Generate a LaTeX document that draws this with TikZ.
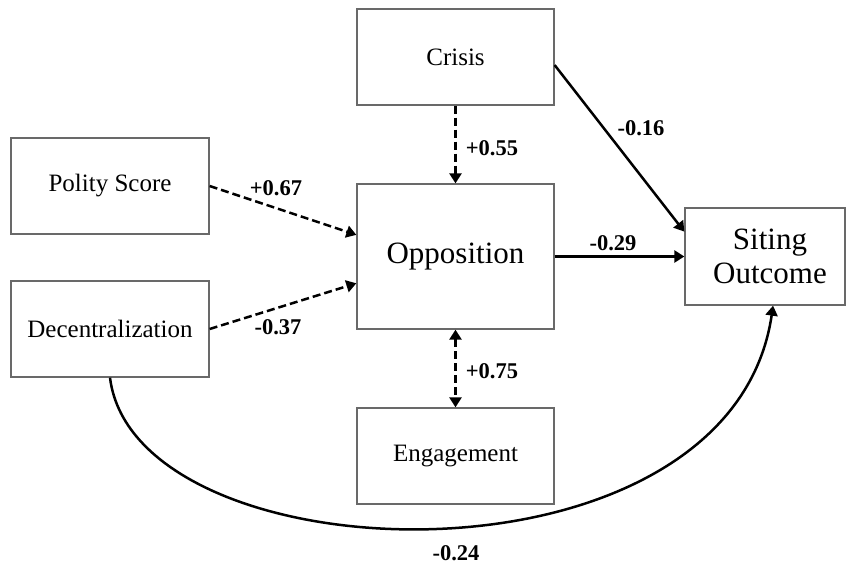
\documentclass[tikz,border=0pt]{standalone}
\usepackage{fontspec}
\setmainfont{Liberation Serif}
\usetikzlibrary{arrows.meta,calc}
\definecolor{boxgray}{RGB}{105,105,105}
\begin{document}
\begin{tikzpicture}[x=1pt,y=-1pt,
  >={Triangle[length=10pt,width=12pt]},
  box/.style={draw=boxgray, line width=1.3pt, fill=white, inner sep=0pt,
    font=\fontsize{25}{28}\selectfont},
  bigbox/.style={box, font=\fontsize{31}{34}\selectfont, align=center},
  conn/.style={line width=2.5pt, ->},
  dconn/.style={conn, dash pattern=on 8pt off 4pt},
  coef/.style={font=\bfseries\fontsize{22.5}{25}\selectfont, inner sep=0pt}]
\useasboundingbox (0,0) rectangle (847,565);

\node[box, minimum width=197pt, minimum height=96pt] (crisis) at (455.5,57) {Crisis};
\node[box, minimum width=198pt, minimum height=96pt] (polity) at (110,186) {Polity Score};
\node[box, minimum width=198pt, minimum height=96pt] (decent) at (110,329) {Decentralization};
\node[bigbox, minimum width=197pt, minimum height=145pt] (opp) at (455.5,256.5) {Opposition};
\node[box, minimum width=197pt, minimum height=96pt] (eng) at (455.5,456) {Engagement};
\node[bigbox, minimum width=160pt, minimum height=97pt, text width=150pt] (siting) at (765,256.5) {\hspace*{10pt}Siting\\\hspace*{10pt}Outcome};

\coordinate (oppin1) at ($(opp.north west)!0.352!(opp.south west)$);
\coordinate (oppin2) at ($(opp.north west)!0.683!(opp.south west)$);
\coordinate (crisout) at ($(crisis.north east)!0.583!(crisis.south east)$);
\coordinate (sitin) at ($(siting.north west)!0.247!(siting.south west)$);
\coordinate (sitbot) at ($(siting.south west)!0.55!(siting.south east)$);

\draw[dconn] (polity.east) -- (oppin1);
\draw[dconn] (decent.east) -- (oppin2);
\draw[dconn] (crisis.south) -- (opp.north);
\draw[dconn, <->] (opp.south) -- (eng.north);
\draw[conn] (opp.east) -- (opp.east -| siting.west);
\draw[conn] (crisout) -- (sitin);
\draw[conn] (decent.south) .. controls (135,580) and (730,600) .. (sitbot);

\node[coef] (c67) at (276,188) {+0.67};
\node[coef] (c37) at (278,327) {-0.37};
\node[coef] (c55) at (492,148) {+0.55};
\node[coef] (c75) at (492,371) {+0.75};
\node[coef] (c16) at (641,128) {-0.16};
\node[coef] (c29) at (613,243) {-0.29};
\node[coef] (c24) at (456,553) {-0.24};
\end{tikzpicture}
\end{document}
